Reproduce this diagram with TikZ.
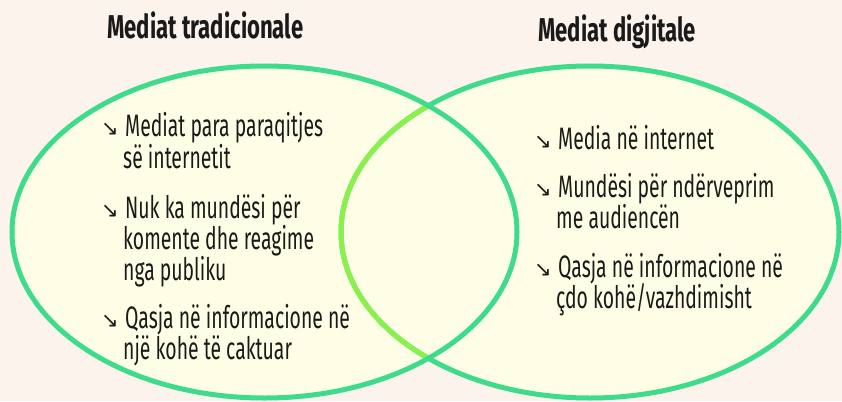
\documentclass[tikz,border=0pt]{standalone}
\usepackage{fontspec}
\setmainfont{Fira Sans}[FakeStretch=0.625]
\newfontfamily\titlefont{Fira Sans}[FakeStretch=0.67]
\newfontfamily\arrowfont{DejaVu Sans}
\definecolor{bgc}{HTML}{FCF3EC}
\definecolor{fillc}{HTML}{FEFEE6}
\definecolor{greenc}{HTML}{3EDC8A}
\definecolor{limec}{HTML}{8CF04C}
\definecolor{textc}{HTML}{1A1A1A}
\begin{document}
\begin{tikzpicture}[x=1pt,y=-1pt,
  body/.style={font=\fontsize{31}{34}\selectfont, text=textc, anchor=base west, inner sep=0pt},
  titlec/.style={font=\titlefont\fontsize{33}{36}\selectfont\bfseries, text=textc, anchor=base west, inner sep=0pt},
  bul/.style={font=\arrowfont\fontsize{21}{24}\selectfont, text=textc, anchor=base west, inner sep=0pt},
  ring/.style={line width=5pt}]
\fill[bgc] (0,0) rectangle (842,401);
\useasboundingbox (0,0) rectangle (842,401);
% fills
\fill[fillc] (264.5,232) ellipse [x radius=252.5, y radius=166];
\fill[fillc] (590,232) ellipse [x radius=249, y radius=166];
% outlines
\draw[ring, greenc] (590,232) ellipse [x radius=249, y radius=166];
\begin{scope}
  \clip (264.5,232) ellipse [x radius=252.5, y radius=166];
  \draw[ring, limec] (590,232) ellipse [x radius=249, y radius=166];
\end{scope}
\draw[ring, greenc] (264.5,232) ellipse [x radius=252.5, y radius=166];
% titles
\node[titlec] (tl) at (107,39) {Mediat tradicionale};
\node[titlec] (tr) at (538,42) {Mediat digjitale};
% left items
\node[bul] (b1) at (101,135) {↘};
\node[body] (l1a) at (125,136) {Mediat para paraqitjes};
\node[body] (l1b) at (123,168) {së internetit};
\node[bul] (b2) at (101,217) {↘};
\node[body] (l2a) at (125,218) {Nuk ka mundësi për};
\node[body] (l2b) at (123,249) {komente dhe reagime};
\node[body] (l2c) at (123,280) {nga publiku};
\node[bul] (b3) at (101,327) {↘};
\node[body] (l3a) at (125,328) {Qasja në informacione në};
\node[body] (l3b) at (123,359) {një kohë të caktuar};
% right items
\node[bul] (b4) at (534,148) {↘};
\node[body] (r1a) at (558,149) {Media në internet};
\node[bul] (b5) at (534,196) {↘};
\node[body] (r2a) at (558,197) {Mundësi për ndërveprim};
\node[body] (r2b) at (556,228) {me audiencën};
\node[bul] (b6) at (534,276) {↘};
\node[body] (r3a) at (558,277) {Qasja në informacione në};
\node[body] (r3b) at (556,308) {çdo kohë/vazhdimisht};
\end{tikzpicture}
\end{document}
